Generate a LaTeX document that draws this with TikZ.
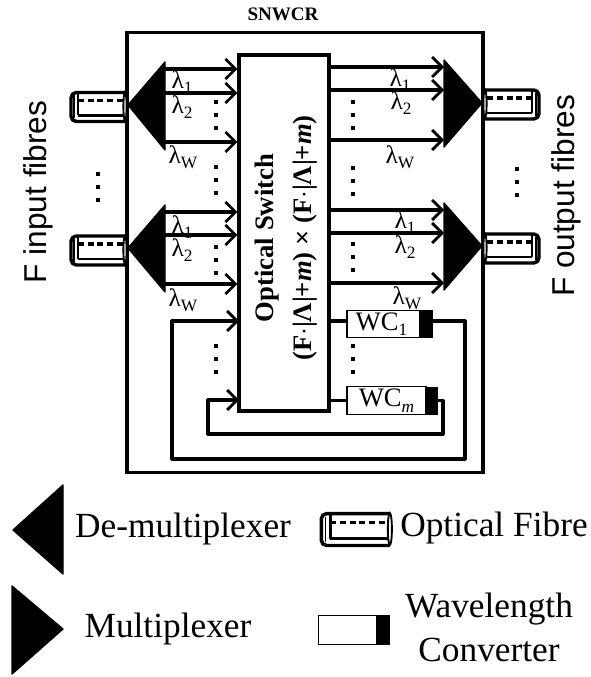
\documentclass[tikz,border=0pt]{standalone}
\usepackage{fontspec}
\usepackage{tikz}
\setmainfont{Liberation Serif}
\newfontfamily\sidefont{Liberation Sans}
\usetikzlibrary{arrows.meta, calc}
\newcommand{\lowsub}[1]{\raisebox{-0.45ex}{\fontsize{13}{13}\selectfont #1}}
\tikzset{
    frame/.style={draw, line width=2.3pt},
    sigline/.style={line width=2.4pt, -{Straight Barb[length=7.5pt,width=15pt,line width=2.1pt]}},
    loopline/.style={line width=2.4pt, line join=round},
    wedge/.style={fill=black, draw=black, line width=1pt, line join=round},
    vdotline/.style={line width=3.3pt, dash pattern=on 3pt off 6.75pt},
    lamlabel/.style={font=\fontsize{19}{19}\selectfont, inner sep=0pt},
    sidelabel/.style={font=\fontsize{23.7}{24}\selectfont\sidefont, rotate=90, inner sep=0pt},
    keylabel/.style={font=\fontsize{26.5}{33}\selectfont, inner sep=0pt, align=center},
    wcbox/.style={draw, line width=0.9pt, fill=white, inner sep=0pt, minimum height=20.5pt, font=\fontsize{20}{20}\selectfont},
    wcend/.style={fill=black, inner sep=0pt, minimum height=21pt},
    pics/fibre/.style={code={
        \draw[line width=2.6pt, line join=round, rounded corners=4pt] (55,-14) -- (1,-14) -- (1,15) -- (55,15);
        \draw[line width=0.8pt] (4,-11) -- (4,12);
        \draw[line width=2.2pt] (8,9) -- (8,-14) (8,9) -- (55,9);
        \draw[line width=2.4pt, dash pattern=on 4.5pt off 2.8pt] (8,-6) -- (55,-6);
        \draw[line width=1.4pt, fill=white] (55,0) ellipse (1.6 and 14.5);
    }},
}
\begin{document}
\begin{tikzpicture}[x=0.75pt, y=-0.75pt]
    \useasboundingbox (0,0) rectangle (590,677);
    % router frame and switch
    \node[frame, minimum width=267pt, minimum height=329.5pt, inner sep=0pt] (router) at (305,252.5) {};
    \node[font=\fontsize{14.3}{14}\selectfont\bfseries, inner sep=0pt] (routername) at (283,14) {SNWCR};
    \node[frame, minimum width=67.5pt, minimum height=267pt, inner sep=0pt] (switch) at (284,233) {};
    \node[rotate=90, align=center, inner sep=0pt, font=\fontsize{20}{28}\selectfont\bfseries] (switchname) at (286,238) {Optical Switch\\(F$\cdot$|Λ|+\textit{m}) × (F$\cdot$|Λ|+\textit{m})};
    % de-multiplexers and arrows into the switch
    \foreach \dm/\ya/\yb/\yc/\yt/\yu/\yv in {A/69/93/142/62/105/150, B/212/235/284/205/248/292} {
        \fill[wedge] (165,\yt) -- (165,\yv) -- (128,\yu) -- cycle;
        \coordinate (dmx\dm a) at (165,\ya);
        \coordinate (dmx\dm b) at (165,\yb);
        \coordinate (dmx\dm c) at (165,\yc);
        \foreach \ch in {a,b,c}
            \draw[sigline] (dmx\dm\ch) -- (dmx\dm\ch -| switch.west);
    }
    % multiplexers and arrows out of the switch
    \foreach \mx/\ya/\yb/\yc/\yt/\yu/\yv in {A/67/90/140/60/103/147, B/210/233/283/203/246/290} {
        \fill[wedge] (444,\yt) -- (444,\yv) -- (482,\yu) -- cycle;
        \coordinate (mux\mx a) at (444,\ya);
        \coordinate (mux\mx b) at (444,\yb);
        \coordinate (mux\mx c) at (444,\yc);
        \foreach \ch in {a,b,c}
            \draw[sigline] (mux\mx\ch -| switch.east) -- (mux\mx\ch);
    }
    % wavelength labels
    \foreach \lx/\ly/\ls [count=\n] in {182/82/1, 182/107/2, 183/157/W, 182/227/1, 182/250/2, 183/300/W, 400/80/1, 401/103/2, 400/157/W, 405/222/1, 405/247/2, 407/298/W}
        \node[lamlabel] (lam\n) at (\lx,\ly) {λ\lowsub{\ls}};
    % fibres
    \pic at (70,106.5) {fibre};
    \pic at (70,250) {fibre};
    \pic[xscale=-1] at (540,104) {fibre};
    \pic[xscale=-1] at (540,248) {fibre};
    \node[sidelabel] (inputname) at (38,192) {F input fibres};
    \node[sidelabel] (outputname) at (566,196) {F output fibres};
    % dots
    \foreach \dx/\dy in {98/172, 216/100, 216/165, 216/245, 216/344, 353/100, 353/166, 353/242, 353/344, 517/167}
        \draw[vdotline] (\dx,\dy) -- ++(0,30);
    % wavelength converters
    \node[wcbox, minimum width=54.75pt] (wcA) at (383.5,324) {\hspace{-3pt}WC\lowsub{1}};
    \node[wcend, minimum width=9.75pt] (wcAend) at (426.5,324) {};
    \node[wcbox, minimum width=59.25pt] (wcB) at (386.5,400.5) {WC\lowsub{\textit{m}}};
    \node[wcend, minimum width=9pt] (wcBend) at (432,400.5) {};
    \coordinate (loopAin) at (239,321);
    \coordinate (loopBin) at (239,400);
    \draw[loopline] (switch.east |- loopAin) -- (wcA.west |- loopAin);
    \draw[loopline] (switch.east |- wcB.west) -- (wcB.west);
    \draw[loopline] (wcAend.east |- loopAin) -- (465,321) -- (465,459) -- (172,459) -- (172,321) -- (loopAin);
    \draw[sigline] (172,321) -- (loopAin);
    \draw[loopline] (wcBend.east) -- (443,400.5) -- (443,434) -- (208,434) -- (208,400) -- (loopBin);
    \draw[sigline] (208,400) -- (loopBin);
    % key
    \fill[wedge] (63,485) -- (63,574) -- (13,530) -- cycle;
    \fill[wedge] (12,586) -- (12,674) -- (63,629) -- cycle;
    \node[keylabel] (keydemux) at (183,529) {De-multiplexer};
    \node[keylabel] (keymux) at (168,629) {Multiplexer};
    \pic[xscale=1.27, yscale=1.1] at (320,529) {fibre};
    \node[keylabel] (keyfibre) at (494,528) {Optical Fibre};
    \node[wcbox, minimum width=43pt, minimum height=22pt] (keywc) at (347.5,630) {};
    \node[wcend, minimum width=10.5pt, minimum height=22.5pt] (keywcend) at (383,630) {};
    \node[keylabel] (keyconv) at (489,627) {Wavelength\\Converter};
\end{tikzpicture}
\end{document}
